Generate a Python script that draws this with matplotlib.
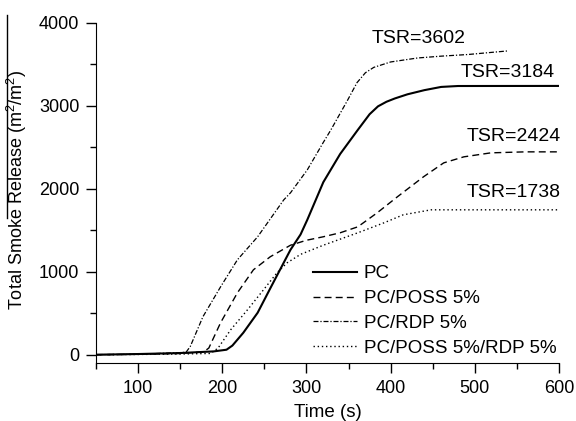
import numpy as np
import matplotlib
matplotlib.use("Agg")
import matplotlib.pyplot as plt
from matplotlib.lines import Line2D
from matplotlib.ticker import MultipleLocator

plt.rcParams["font.family"] = ["Liberation Sans", "DejaVu Sans"]
plt.rcParams["mathtext.fontset"] = "custom"
plt.rcParams["mathtext.rm"] = "Liberation Sans"

# 曲线数据
pc_t = [50, 100, 150, 190, 205, 212, 225, 242, 257, 273, 281, 293, 301, 320, 340, 361,
        375, 385, 395, 405, 420, 440, 460, 480, 600]
pc_y = [0, 8, 20, 40, 60, 110, 265, 506, 800, 1110, 1265, 1450, 1627, 2080, 2420, 2711,
        2900, 2995, 3050, 3090, 3140, 3190, 3229, 3240, 3241]

poss_t = [50, 100, 150, 178, 184, 198, 218, 237, 257, 281, 300, 320, 340, 361, 384, 408,
          439, 463, 487, 519, 560, 600]
poss_y = [0, 5, 15, 35, 80, 386, 747, 1024, 1181, 1320, 1380, 1422, 1470, 1542, 1711, 1904,
          2145, 2313, 2386, 2434, 2446, 2446]

rdp_t = [50, 100, 150, 157, 162, 177, 198, 218, 242, 273, 281, 301, 320, 329, 349, 360,
         370, 380, 400, 432, 460, 492, 539]
rdp_y = [0, 5, 25, 30, 100, 458, 819, 1145, 1422, 1867, 1952, 2229, 2560, 2711, 3072, 3280,
         3400, 3465, 3530, 3578, 3600, 3620, 3663]

both_t = [50, 100, 150, 186, 195, 210, 230, 249, 265, 277, 293, 320, 361, 392, 415, 448, 600]
both_y = [0, 3, 8, 15, 80, 301, 542, 783, 988, 1108, 1210, 1320, 1470, 1590, 1687, 1747, 1747]

labels = ["PC", "PC/POSS 5%", "PC/RDP 5%", "PC/POSS 5%/RDP 5%"]
tsr_text = ["TSR=3602", "TSR=3184", "TSR=2424", "TSR=1738"]
tsr_pos = [(433, 3818), (539, 3398), (546, 2627), (546, 1952)]

fig = plt.figure(figsize=(5.76, 4.21), dpi=100)
ax = fig.add_axes([0.1667, 0.1378, 0.8038, 0.8076])

ax.plot(pc_t, pc_y, color="black", lw=1.5, ls="-", label=labels[0])
ax.plot(poss_t, poss_y, color="black", lw=1.0, ls=(0, (5, 3)), label=labels[1])
ax.plot(rdp_t, rdp_y, color="black", lw=0.9, ls=(0, (4, 1.5, 1, 1.5)), label=labels[2])
ax.plot(both_t, both_y, color="black", lw=1.0, ls=(0, (1, 2)), label=labels[3])

for txt, (tx, ty) in zip(tsr_text, tsr_pos):
    ax.text(tx, ty, txt, fontsize=14, ha="center", va="center")

ax.set_xlim(50, 600)
ax.set_ylim(-100, 4000)
ax.xaxis.set_major_locator(MultipleLocator(100))
ax.xaxis.set_minor_locator(MultipleLocator(50))
ax.yaxis.set_major_locator(MultipleLocator(1000))
ax.yaxis.set_minor_locator(MultipleLocator(500))
ax.tick_params(which="major", direction="out", length=7, width=1, labelsize=13, pad=5)
ax.tick_params(which="minor", direction="out", length=4, width=1)
ax.spines["top"].set_visible(False)
ax.spines["right"].set_visible(False)

ax.set_xlabel("Time (s)", fontsize=13.5, labelpad=5)
ax.set_ylabel("Total Smoke Release (m$^2$/m$^2$)", fontsize=13)
ax.yaxis.set_label_coords(-0.145, 0.51)

ax.legend(loc="lower left", bbox_to_anchor=(0.469, 0.018), frameon=False,
          fontsize=13.5, handlelength=2.35, handletextpad=0.35,
          labelspacing=0.41, borderpad=0, borderaxespad=0)

# 左上角的竖线
fig.add_artist(Line2D([7 / 576, 7 / 576], [1 - 15 / 421, 1 - 218 / 421],
                      color="black", lw=1, transform=fig.transFigure))

fig.savefig("out.png", dpi=100)
